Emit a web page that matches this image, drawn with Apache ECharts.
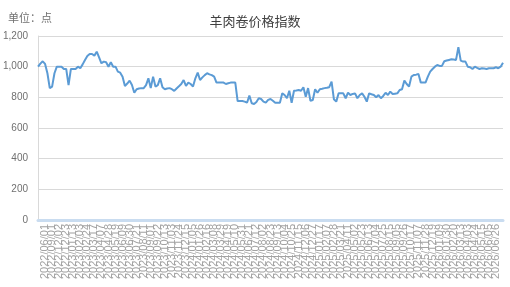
<!DOCTYPE html>
<html>
<head>
    <meta charset="UTF-8">
    <title>羊肉卷价格指数</title>
    <script src="https://cdn.jsdelivr.net/npm/echarts@6/dist/echarts.min.js"></script>
    <style>
        html, body { margin: 0; padding: 0; background: #fff; }
        #main { width: 510px; height: 287px; }
    </style>
</head>
<body>
<div id="main"></div>
<script>
    // 2022 的月度点，之后是每周一个点
    var earlyDates = ['2022/03/01', '2022/04/01', '2022/05/01', '2022/06/01', '2022/07/01',
        '2022/08/01', '2022/09/01', '2022/10/01', '2022/11/01'];
    var weeklyStart = '2022/12/02';
    var weeklyCount = 190;

    var yTicks = [0, 200, 400, 600, 800, 1000, 1200];

    var indexValues = [
        1000, 1020, 1035, 1018, 957, 860, 870, 957, 1000, 1000,
        1000, 985, 985, 880, 985, 985, 985, 1000, 990, 1015,
        1044, 1070, 1083, 1083, 1072, 1098, 1061, 1022, 1033, 1029,
        1000, 1029, 1000, 1000, 968, 961, 935, 874, 890, 909,
        880, 830, 853, 858, 860, 860, 880, 924, 860, 935,
        870, 880, 924, 866, 853, 858, 860, 853, 842, 858,
        872, 887, 913, 874, 896, 887, 870, 924, 961, 913,
        930, 945, 957, 950, 945, 935, 896, 896, 896, 896,
        887, 892, 896, 896, 896, 776, 776, 776, 772, 765,
        811, 761, 757, 770, 794, 789, 772, 765, 783, 789,
        778, 765, 765, 765, 826, 815, 794, 843, 765, 843,
        845, 848, 843, 866, 804, 860, 778, 783, 853, 830,
        853, 856, 860, 862, 866, 902, 787, 772, 826, 826,
        826, 794, 830, 815, 822, 826, 794, 815, 826, 804,
        772, 826, 820, 815, 800, 815, 794, 809, 830, 815,
        837, 822, 824, 826, 848, 853, 909, 887, 870, 935,
        946, 948, 952, 896, 896, 896, 935, 968, 985, 1000,
        1011, 1005, 1005, 1035, 1040, 1044, 1048, 1046, 1044, 1127,
        1039, 1033, 1033, 1000, 996, 985, 1000, 992, 985, 990,
        988, 985, 990, 990, 990, 996, 990, 1000, 1026
    ];

    function pad(n) { return n < 10 ? '0' + n : '' + n; }

    var dates = earlyDates.slice();
    var d = new Date(weeklyStart.replace(/\//g, '-') + 'T00:00:00Z');
    for (var i = 0; i < weeklyCount; i++) {
        dates.push(d.getUTCFullYear() + '/' + pad(d.getUTCMonth() + 1) + '/' + pad(d.getUTCDate()));
        d.setUTCDate(d.getUTCDate() + 7);
    }

    var myChart = echarts.init(document.getElementById('main'));

    myChart.setOption({
        animation: false,
        title: [{
            text: '羊肉卷价格指数',
            left: 'center',
            top: 10,
            textStyle: {
                fontSize: 13,
                fontWeight: 'normal',
                color: '#404040',
                fontFamily: 'Noto Sans CJK SC'
            }
        }, {
            text: '单位：点',
            left: 3,
            top: 7,
            textStyle: {
                fontSize: 11,
                fontWeight: 'normal',
                color: '#707070',
                fontFamily: 'Noto Sans CJK SC'
            }
        }],
        grid: {
            left: 38,
            right: 7,
            top: 36,
            bottom: 67
        },
        xAxis: {
            type: 'category',
            boundaryGap: false,
            data: dates,
            axisLine: {
                lineStyle: {color: '#c9dcf0', width: 3}
            },
            axisTick: {show: false},
            axisLabel: {
                interval: 2,
                rotate: 90,
                fontSize: 11,
                color: '#a3a3a3',
                margin: 4,
                fontFamily: 'Liberation Sans'
            }
        },
        yAxis: {
            type: 'value',
            min: yTicks[0],
            max: yTicks[yTicks.length - 1],
            interval: yTicks[1] - yTicks[0],
            axisLine: {show: true, lineStyle: {color: '#d9d9d9'}},
            axisTick: {show: false},
            splitLine: {lineStyle: {color: '#d9d9d9'}},
            axisLabel: {
                fontSize: 10,
                color: '#707070',
                margin: 10,
                fontFamily: 'Liberation Sans',
                formatter: function (v) {
                    return v.toString().replace(/\B(?=(\d{3})+(?!\d))/g, ',');
                }
            }
        },
        series: [{
            name: '羊肉卷价格指数',
            type: 'line',
            data: indexValues,
            symbol: 'none',
            lineStyle: {color: '#5b9bd5', width: 2},
            itemStyle: {color: '#5b9bd5'}
        }]
    });
</script>
</body>
</html>
